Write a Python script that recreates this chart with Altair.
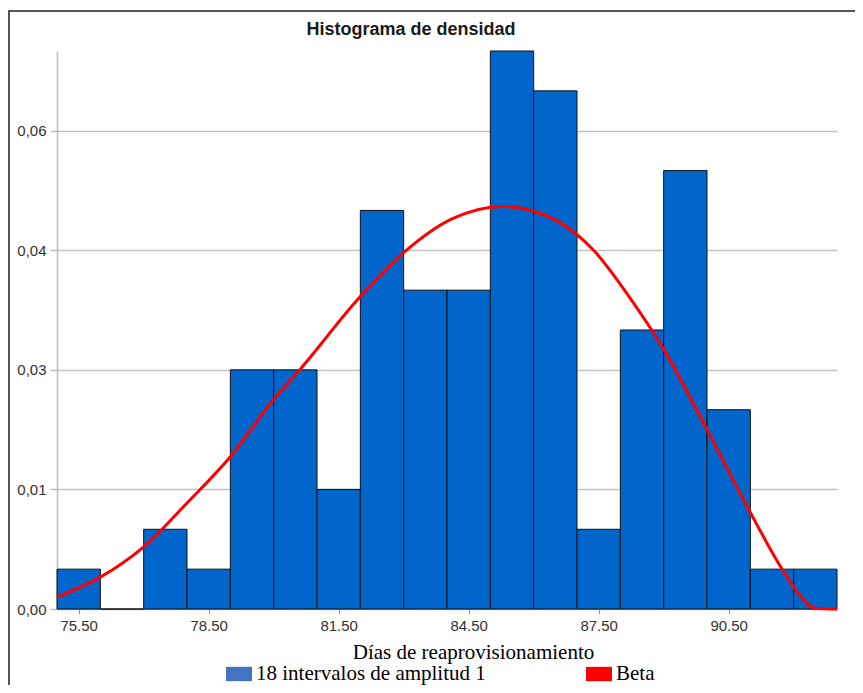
import altair as alt
import pandas as pd

# ---- data ----
bin_starts = [75, 76, 77, 78, 79, 80, 81, 82, 83, 84, 85, 86, 87, 88, 89, 90, 91, 92]
densities = [0.005, 0.0, 0.010, 0.005, 0.030, 0.030, 0.015, 0.050, 0.040, 0.040,
             0.070, 0.065, 0.010, 0.035, 0.055, 0.025, 0.005, 0.005]
bin_width = 1

curve_x = [75.0, 76.0, 77.0, 78.0, 79.0, 80.0, 80.6, 82.0, 83.0, 84.1, 85.3, 86.0,
           86.6, 87.4, 88.2, 89.0, 90.0, 91.0, 91.7, 92.1, 92.5, 93.0]
curve_y = [0.0015, 0.0040, 0.0078, 0.0133, 0.0191, 0.0263, 0.0300, 0.0392, 0.0447,
           0.0489, 0.0505, 0.0499, 0.0485, 0.0449, 0.0392, 0.0326, 0.0225, 0.0121,
           0.0053, 0.0020, 0.0001, 0.0]

y_tick_values = [0, 0.015, 0.03, 0.045, 0.06]
y_tick_labels = ["0,00", "0,01", "0,03", "0,04", "0,06"]
x_tick_values = [75.5, 78.5, 81.5, 84.5, 87.5, 90.5]

legend_labels = ["18 intervalos de amplitud 1", "Beta"]
legend_colors = ["#4472C4", "#FF0000"]

title_text = "Histograma de densidad"
x_title = "Días de reaprovisionamiento"

# ---- tables ----
bars_df = pd.DataFrame({
    "inicio": bin_starts,
    "fin": [b + bin_width for b in bin_starts],
    "densidad": densities,
})
curve_df = pd.DataFrame({"x": curve_x, "y": curve_y})
legend_df = pd.DataFrame({
    "serie": legend_labels,
    "x": [bin_starts[0]] * len(legend_labels),
    "y": [0.0] * len(legend_labels),
})
title_df = pd.DataFrame({"t": [title_text]})

W, H = 780, 558

x_scale = alt.Scale(domain=[bin_starts[0], bin_starts[-1] + bin_width], nice=False, zero=False)
y_scale = alt.Scale(domain=[0, 0.07], nice=False)

label_expr = "[" + ",".join("'%s'" % s for s in y_tick_labels) + "][indexof([" + \
    ",".join(str(v) for v in y_tick_values) + "], datum.value)]"

x_axis = alt.Axis(
    values=x_tick_values, format=".2f", title=x_title,
    labelFont="Liberation Sans", labelFontSize=15, labelColor="#333333", labelPadding=4,
    tickSize=5, tickColor="#9a9a9a", domainColor="#9a9a9a", domainWidth=1,
    grid=False,
    titleFont="Liberation Serif", titleFontSize=21, titleFontWeight="normal",
    titleColor="#000000", titleX=416, titleY=49, titleBaseline="alphabetic",
    titleAlign="center",
)
y_axis = alt.Axis(
    values=y_tick_values, labelExpr=label_expr, title=None,
    labelFont="Liberation Sans", labelFontSize=15, labelColor="#333333", labelPadding=4,
    tickSize=7, tickColor="#bdbdbd", tickWidth=1.5,
    domainColor="#bdbdbd", domainWidth=1.5,
    grid=True, gridColor="#c3c3c3", gridWidth=1.5,
)

border = alt.Chart(pd.DataFrame({"k": [0]})).mark_rect(
    filled=False, stroke="#555555", strokeWidth=2
).encode(
    x=alt.value(-48), x2=alt.value(805), y=alt.value(-40), y2=alt.value(700)
)

title_mark = alt.Chart(title_df).mark_text(
    font="Liberation Sans", fontSize=18, fontWeight="bold", color="#1a1a1a",
    align="center", baseline="alphabetic"
).encode(
    x=alt.value(354), y=alt.value(-16), text="t:N"
)

bars = alt.Chart(bars_df).mark_bar(
    color="#0066CC", stroke="#111111", strokeWidth=1
).encode(
    x=alt.X("inicio:Q", scale=x_scale, axis=x_axis),
    x2="fin:Q",
    y=alt.Y("densidad:Q", scale=y_scale, axis=y_axis),
    y2=alt.datum(0),
)

legend_layer = alt.Chart(legend_df).mark_bar().encode(
    x=alt.X("x:Q", scale=x_scale),
    x2="x:Q",
    y=alt.Y("y:Q", scale=y_scale),
    y2="y:Q",
    color=alt.Color(
        "serie:N",
        scale=alt.Scale(domain=legend_labels, range=legend_colors),
        legend=alt.Legend(
            title=None, orient="none", legendX=169, legendY=610,
            direction="horizontal", columns=2, columnPadding=100,
            symbolType="M-1,-0.55H1V0.55H-1Z", symbolSize=676,
            symbolStrokeWidth=0, labelOffset=4,
            labelFont="Liberation Serif", labelFontSize=21, labelColor="#000000",
            labelLimit=400,
        ),
    ),
)

line = alt.Chart(curve_df).mark_line(
    color="#FF0000", strokeWidth=3, interpolate="monotone"
).encode(
    x=alt.X("x:Q", scale=x_scale),
    y=alt.Y("y:Q", scale=y_scale),
)

chart = alt.layer(border, title_mark, bars, legend_layer, line).properties(
    width=W, height=H,
    autosize=alt.AutoSizeParams(type="none"),
    padding={"left": 49, "top": 43, "right": 18, "bottom": 76},
    background="white",
).configure_view(stroke=None)

chart.save("out.html", embed_options={"renderer": "svg", "actions": False})
